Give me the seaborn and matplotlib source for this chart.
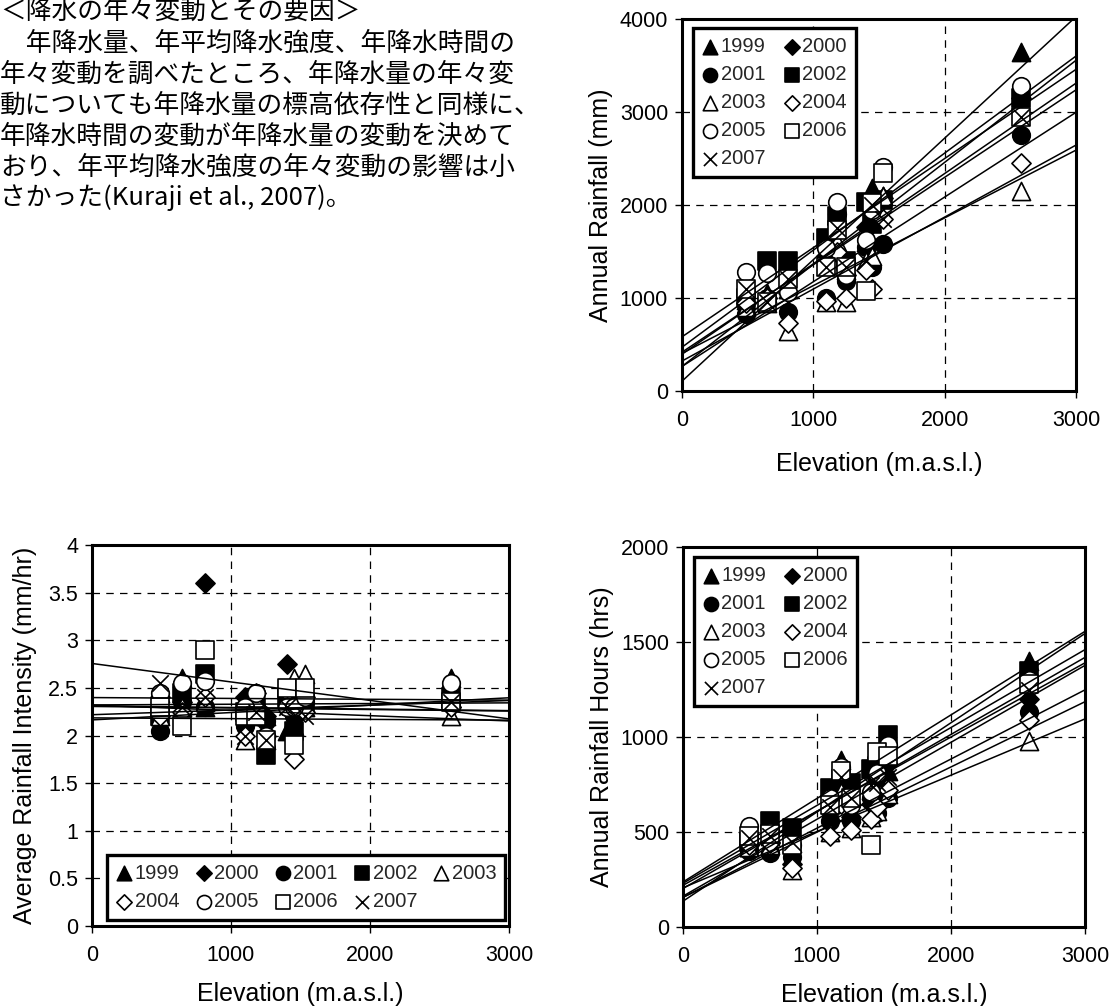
import numpy as np
import pandas as pd
import matplotlib
matplotlib.use("Agg")
import matplotlib.pyplot as plt
import matplotlib.ticker as mticker
import seaborn as sns

# ---------------- data ----------------
years = ["1999", "2000", "2001", "2002", "2003", "2004", "2005", "2006", "2007"]
elevation = [490, 650, 810, 1100, 1180, 1250, 1400, 1450, 1530, 2580]

rainfall = {
    "1999": [980, 1050, 1100, 1500, 1850, 1300, 1600, 2180, 2100, 3650],
    "2000": [950, 1000, 1050, 1450, 1800, 1250, 1760, 1800, 2080, 3150],
    "2001": [830, 1000, 850, 1000, 1900, 1180, 1550, 1330, 1580, 2750],
    "2002": [1000, 1400, 1400, 1640, 1880, 1400, 2030, 1800, 2050, 3150],
    "2003": [900, 950, 640, 960, 1600, 960, 1400, 1450, 2100, 2150],
    "2004": [950, 1000, 730, 970, 1500, 1000, 1300, 1100, 1850, 2450],
    "2005": [1280, 1270, 1060, 1540, 2030, 1250, 1620, 1950, 2410, 3280],
    "2006": [1100, 960, 1200, 1330, 1730, 1330, 1080, 2020, 2340, 2950],
    "2007": [1100, 960, 1200, 1330, 1750, 1330, 1400, 2000, 1850, 2950],
}
intensity = {
    "1999": [2.45, 2.6, 2.3, 2.3, 2.4, 2.2, 2.05, 2.1, 2.3, 2.6],
    "2000": [2.4, 2.35, 3.6, 2.4, 2.45, 2.2, 2.75, 2.3, 2.4, 2.3],
    "2001": [2.05, 2.35, 2.3, 2.1, 2.45, 2.15, 2.3, 2.2, 2.35, 2.35],
    "2002": [2.2, 2.45, 2.65, 2.25, 2.3, 1.8, 2.4, 2.05, 2.35, 2.4],
    "2003": [2.2, 2.3, 2.35, 1.95, 2.2, 1.95, 2.4, 2.6, 2.65, 2.2],
    "2004": [2.2, 2.25, 2.4, 2.0, 2.3, 2.0, 2.3, 1.75, 2.25, 2.3],
    "2005": [2.45, 2.55, 2.57, 2.3, 2.45, 2.0, 2.3, 2.3, 2.4, 2.55],
    "2006": [2.3, 2.1, 2.9, 2.2, 2.2, 1.95, 2.5, 1.9, 2.5, 2.35],
    "2007": [2.55, 2.3, 2.4, 2.0, 2.25, 1.95, 2.3, 2.2, 2.2, 2.35],
}
hours = {
    "1999": [420, 480, 440, 650, 880, 600, 720, 790, 820, 1400],
    "2000": [430, 450, 330, 620, 760, 580, 650, 780, 860, 1200],
    "2001": [400, 390, 370, 560, 720, 560, 680, 600, 680, 1130],
    "2002": [450, 560, 520, 730, 780, 760, 830, 850, 1010, 1350],
    "2003": [420, 430, 300, 500, 710, 520, 580, 610, 700, 980],
    "2004": [430, 440, 310, 480, 650, 510, 570, 630, 720, 1090],
    "2005": [530, 500, 430, 680, 840, 640, 710, 810, 960, 1300],
    "2006": [480, 490, 430, 640, 820, 680, 430, 920, 900, 1280],
    "2007": [470, 480, 450, 630, 790, 680, 750, 760, 790, 1250],
}

text_lines = [
    "＜降水の年々変動とその要因＞",
    "　年降水量、年平均降水強度、年降水時間の",
    "年々変動を調べたところ、年降水量の年々変",
    "動についても年降水量の標高依存性と同様に、",
    "年降水時間の変動が年降水量の変動を決めて",
    "おり、年平均降水強度の年々変動の影響は小",
    "さかった(Kuraji et al., 2007)。",
]

# marker style per year: (marker, facecolor, size)
styles = {
    "1999": ("^", "black", 170),
    "2000": ("D", "black", 95),
    "2001": ("o", "black", 160),
    "2002": ("s", "black", 150),
    "2003": ("^", "white", 170),
    "2004": ("D", "white", 95),
    "2005": ("o", "white", 160),
    "2006": ("s", "white", 150),
    "2007": ("x", "black", 140),
}

rows = []
for y in years:
    for i, e in enumerate(elevation):
        rows.append(dict(year=y, elev=e, rain=rainfall[y][i],
                         inten=intensity[y][i], hrs=hours[y][i]))
df = pd.DataFrame(rows)

# ---------------- style ----------------
sns.set_theme(style="white")
plt.rcParams["font.family"] = ["Liberation Sans", "DejaVu Sans"]
plt.rcParams["axes.edgecolor"] = "black"

W, H = 1112, 1006
fig = plt.figure(figsize=(W / 100, H / 100), dpi=100)
fig.patch.set_facecolor("white")


def px_axes(x0, y0, x1, y1):
    return fig.add_axes([x0 / W, 1 - y1 / H, (x1 - x0) / W, (y1 - y0) / H])


def draw_panel(ax, col, ylim, ystep, ylabel, ylabelpad, xlabelpad, fmt=None):
    ax.set_xlim(0, 3000)
    ax.set_ylim(*ylim)
    for y in years:
        sub = df[df.year == y]
        m, fc, s = styles[y]
        if m == "x":
            sns.scatterplot(data=sub, x="elev", y=col, marker="x", color="black",
                            s=s, linewidth=1.2, ax=ax, label=y, zorder=3)
        else:
            sns.scatterplot(data=sub, x="elev", y=col, marker=m, color=fc,
                            edgecolor="black", linewidth=1.2, s=s, ax=ax,
                            label=y, zorder=3)
    for y in years:
        sub = df[df.year == y]
        sns.regplot(data=sub, x="elev", y=col, scatter=False, ci=None,
                    truncate=False, ax=ax,
                    line_kws=dict(color="black", lw=1.1, zorder=4))
    ax.set_xlim(0, 3000)
    ax.set_ylim(*ylim)
    ax.xaxis.set_major_locator(mticker.MultipleLocator(1000))
    ax.yaxis.set_major_locator(mticker.MultipleLocator(ystep))
    if fmt:
        ax.yaxis.set_major_formatter(mticker.FuncFormatter(fmt))
    ax.grid(True, color="black", linestyle=(0, (6, 5)), lw=0.9)
    ax.set_axisbelow(True)
    for sp in ax.spines.values():
        sp.set_linewidth(2.2)
        sp.set_color("black")
        sp.set_zorder(6)
    ax.tick_params(axis="both", direction="out", length=5, width=1,
                   colors="black", labelsize=15.5, bottom=True, left=True)
    ax.tick_params(axis="x", pad=9)
    ax.tick_params(axis="y", pad=5)
    ax.set_xlabel("Elevation (m.a.s.l.)", fontsize=18, labelpad=xlabelpad, color="black")
    ax.set_ylabel(ylabel, fontsize=18, labelpad=ylabelpad, color="black")


def make_legend(ax, order, ncol, loc, anchor, colsp):
    h, l = ax.get_legend_handles_labels()
    d = dict(zip(l, h))
    leg = ax.legend([d[k] for k in order], order, ncol=ncol, loc=loc,
                    bbox_to_anchor=anchor, borderaxespad=0, fontsize=14.5,
                    handlelength=0.8, handletextpad=0.12, columnspacing=colsp,
                    labelspacing=0.45, borderpad=0.45, markerscale=0.8,
                    frameon=True, fancybox=False, framealpha=1,
                    edgecolor="black")
    leg.get_frame().set_linewidth(2.4)
    leg.set_zorder(10)


# top-right: annual rainfall
ax1 = px_axes(682, 19, 1076, 391)
draw_panel(ax1, "rain", (0, 4000), 1000, "Annual Rainfall (mm)", 5, 15)
order2 = ["1999", "2001", "2003", "2005", "2007", "2000", "2002", "2004", "2006"]
make_legend(ax1, order2, 2, "upper left", (0.028, 0.976), 0.9)

# bottom-left: intensity
ax2 = px_axes(92, 545, 509, 926)
draw_panel(ax2, "inten", (0, 4), 0.5, "Average Rainfall Intensity (mm/hr)", 8, 11,
           fmt=lambda v, p: f"{v:g}")
order5 = ["1999", "2004", "2000", "2005", "2001", "2006", "2002", "2007", "2003"]
make_legend(ax2, order5, 5, "lower left", (0.036, 0.016), 0.8)

# bottom-right: hours
ax3 = px_axes(683, 547, 1085, 927)
draw_panel(ax3, "hrs", (0, 2000), 500, "Annual Rainfall Hours (hrs)", 5, 11)
make_legend(ax3, order2, 2, "upper left", (0.027, 0.974), 0.9)

# Japanese text block
ys = [12, 44, 75, 106, 137, 168, 198]
for t, yy in zip(text_lines, ys):
    fig.text(0, 1 - yy / H, t, fontsize=18.5, va="center", ha="left",
             family=["Noto Sans CJK JP", "DejaVu Sans"], color="black")

fig.savefig("out.png", dpi=100, facecolor="white")
